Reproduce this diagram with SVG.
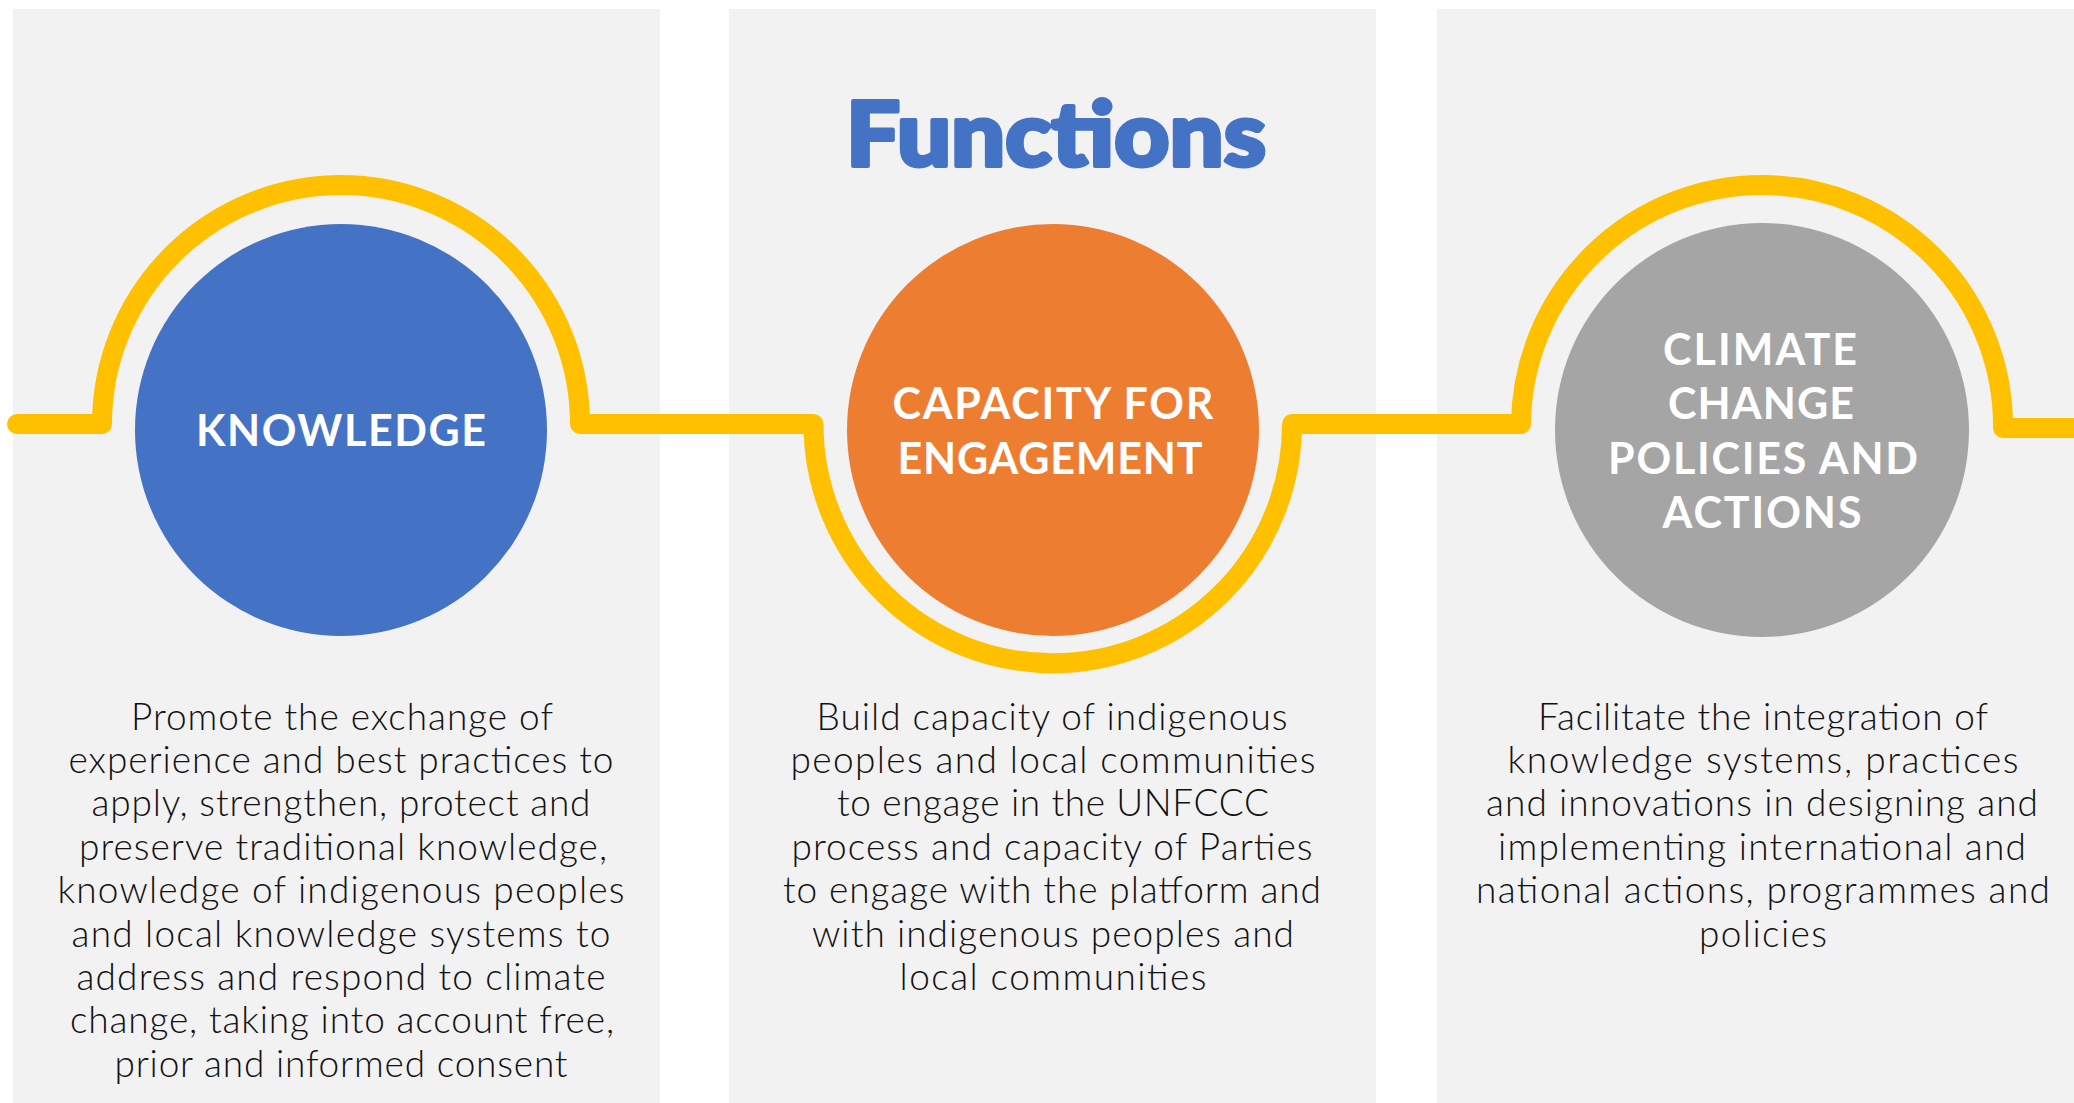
<svg xmlns="http://www.w3.org/2000/svg" width="2074" height="1103" viewBox="0 0 2074 1103">
  <style>
    .panel { fill: #F2F2F2; }
    .title { font-family: Lato, "Liberation Sans", sans-serif; font-weight: 900; font-size: 89px; fill: #4472C4; stroke: #4472C4; stroke-width: 4; stroke-linejoin: round; }
    .label { font-family: Lato, "Liberation Sans", sans-serif; font-weight: 700; font-size: 43px; fill: #FFFFFF; text-anchor: middle; }
    .body { font-family: Lato, "Liberation Sans", sans-serif; font-weight: 300; font-size: 37px; fill: #111111; text-anchor: middle; }
    .wire { fill: none; stroke: #FFC000; stroke-width: 20; stroke-linecap: round; stroke-linejoin: round; }
  </style>
  <rect width="2074" height="1103" fill="#FFFFFF"/>
  <g id="panels">
    <rect class="panel" x="13" y="9" width="647" height="1094"/>
    <rect class="panel" x="729" y="9" width="647" height="1094"/>
    <rect class="panel" x="1437" y="9" width="637" height="1094"/>
  </g>
  <g id="connectors">
    <path class="wire" d="M 17 424 H 102 A 239 239 0 0 1 580 424 H 813.5 A 239.25 239.25 0 0 0 1292 424 H 1521 A 241 241 0 0 1 2003 428 H 2084"/>
  </g>
  <g id="title">
    <text class="title" x="846" y="166" textLength="420" lengthAdjust="spacingAndGlyphs">Functions</text>
  </g>
  <g id="node-knowledge">
    <circle cx="341" cy="430" r="206" fill="#4472C4"/>
    <text class="label" x="341" y="446" textLength="290">KNOWLEDGE</text>
    <text class="body" x="342" y="730" textLength="422">Promote the exchange of</text>
    <text class="body" x="341" y="773" textLength="545">experience and best practices to</text>
    <text class="body" x="341" y="816" textLength="499">apply, strengthen, protect and</text>
    <text class="body" x="343" y="860" textLength="528">preserve traditional knowledge,</text>
    <text class="body" x="341" y="903" textLength="567">knowledge of indigenous peoples</text>
    <text class="body" x="341" y="947" textLength="539">and local knowledge systems to</text>
    <text class="body" x="341" y="990" textLength="529">address and respond to climate</text>
    <text class="body" x="342" y="1033" textLength="544">change, taking into account free,</text>
    <text class="body" x="341" y="1077" textLength="453">prior and informed consent</text>
  </g>
  <g id="node-capacity">
    <circle cx="1053" cy="430" r="206" fill="#ED7D31"/>
    <text class="label" x="1053" y="419" textLength="321">CAPACITY FOR</text>
    <text class="label" x="1050" y="474" textLength="305">ENGAGEMENT</text>
    <text class="body" x="1052" y="730" textLength="471">Build capacity of indigenous</text>
    <text class="body" x="1053" y="773" textLength="525">peoples and local communities</text>
    <text class="body" x="1053" y="816" textLength="432">to engage in the UNFCCC</text>
    <text class="body" x="1052" y="860" textLength="521">process and capacity of Parties</text>
    <text class="body" x="1052" y="903" textLength="538">to engage with the platform and</text>
    <text class="body" x="1053" y="947" textLength="482">with indigenous peoples and</text>
    <text class="body" x="1053" y="990" textLength="307">local communities</text>
  </g>
  <g id="node-climate">
    <circle cx="1762" cy="430" r="207" fill="#A5A5A5"/>
    <text class="label" x="1760" y="365" textLength="194">CLIMATE</text>
    <text class="label" x="1761" y="419" textLength="186">CHANGE</text>
    <text class="label" x="1763" y="474" textLength="310">POLICIES AND</text>
    <text class="label" x="1762" y="528" textLength="199">ACTIONS</text>
    <text class="body" x="1763" y="730" textLength="450">Facilitate the integration of</text>
    <text class="body" x="1763" y="773" textLength="511">knowledge systems, practices</text>
    <text class="body" x="1762" y="816" textLength="552">and innovations in designing and</text>
    <text class="body" x="1762" y="860" textLength="528">implementing international and</text>
    <text class="body" x="1763" y="903" textLength="574">national actions, programmes and</text>
    <text class="body" x="1763" y="947" textLength="128">policies</text>
  </g>
</svg>
